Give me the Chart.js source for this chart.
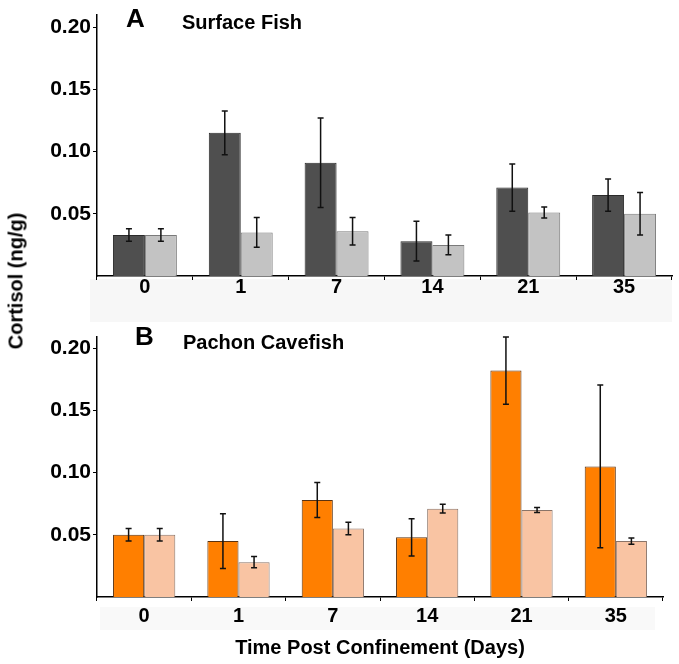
<!DOCTYPE html>
<html>
<head>
<meta charset="utf-8">
<script src="https://cdn.jsdelivr.net/npm/chart.js@4/dist/chart.umd.min.js"></script>
<style>
  body { margin: 0; background: #fff; }
  #wrap { position: relative; width: 679px; height: 664px; font-family: "Liberation Sans", Arial, sans-serif; font-weight: bold; color: #000; }
  canvas { position: absolute; left: 0; }
  .txt { position: absolute; white-space: nowrap; }
  .band { position: absolute; background: #f7f7f7; }
</style>
</head>
<body>
<div id="wrap">
  <div class="band" style="left:90px;top:279px;width:582px;height:43px"></div>
  <div class="band" style="left:100px;top:607px;width:555px;height:23px;background:#f9f9f9"></div>
  <canvas id="grafA" width="679" height="300" style="top:0"></canvas>
  <canvas id="grafB" width="679" height="364" style="top:300px"></canvas>
  <div class="txt" style="left:126px;top:3px;font-size:26px">A</div>
  <div class="txt" style="left:182px;top:11px;font-size:20px">Surface Fish</div>
  <div class="txt" style="left:135px;top:321px;font-size:26px">B</div>
  <div class="txt" style="left:183px;top:331px;font-size:20px">Pachon Cavefish</div>
  <div class="txt" style="left:16px;top:281px;font-size:20px;transform:translate(-50%,-50%) rotate(-90deg)">Cortisol (ng/g)</div>
</div>
<script>
// jours apres le confinement
const jours = ['0', '1', '7', '14', '21', '35']

// A - Surface fish (barre foncee / barre claire) + erreurs
const surfaceFonce = [0.033, 0.115, 0.091, 0.028, 0.071, 0.065]
const surfaceFonceErr = [0.005, 0.0175, 0.036, 0.016, 0.019, 0.013]
const surfaceClair = [0.033, 0.035, 0.036, 0.025, 0.051, 0.050]
const surfaceClairErr = [0.005, 0.012, 0.011, 0.008, 0.0045, 0.017]

// B - Pachon cavefish
const caveFonce = [0.050, 0.045, 0.078, 0.048, 0.182, 0.105]
const caveFonceErr = [0.005, 0.022, 0.014, 0.015, 0.027, 0.0655]
const caveClair = [0.050, 0.028, 0.055, 0.071, 0.070, 0.045]
const caveClairErr = [0.005, 0.0045, 0.005, 0.0035, 0.002, 0.0025]

const graduations = [0.05, 0.10, 0.15, 0.20]

// dessine les barres d'erreur au dessus des barres
const barresErreur = {
    id: 'barresErreur',
    afterDatasetsDraw(chart) {
        const ctx = chart.ctx
        const y = chart.scales.y
        chart.data.datasets.forEach((ds, i) => {
            const meta = chart.getDatasetMeta(i)
            meta.data.forEach((barre, j) => {
                const haut = y.getPixelForValue(ds.data[j] + ds.erreurs[j])
                const bas = y.getPixelForValue(ds.data[j] - ds.erreurs[j])
                ctx.save()
                ctx.strokeStyle = '#111'
                ctx.lineWidth = 1.5
                ctx.beginPath()
                ctx.moveTo(barre.x, haut); ctx.lineTo(barre.x, bas)
                ctx.moveTo(barre.x - 3, haut); ctx.lineTo(barre.x + 3, haut)
                ctx.moveTo(barre.x - 3, bas); ctx.lineTo(barre.x + 3, bas)
                ctx.stroke()
                ctx.restore()
            })
        })
    }
}

function creerGraphique(id, fonce, fonceErr, clair, clairErr, couleurs, reglages) {
    const police = { family: '"Liberation Sans", Arial, sans-serif', weight: 'bold', size: 20 }
    const policeY = { family: '"Liberation Sans", Arial, sans-serif', weight: 'bold', size: 21 }
    return new Chart(document.querySelector(id), {
        type: 'bar',
        data: {
            labels: jours,
            datasets: [{
                data: fonce, erreurs: fonceErr,
                backgroundColor: couleurs[0], borderColor: couleurs[1], borderWidth: 1,
                categoryPercentage: reglages.cat, barPercentage: 1
            }, {
                data: clair, erreurs: clairErr,
                backgroundColor: couleurs[2], borderColor: couleurs[3], borderWidth: 1,
                categoryPercentage: reglages.cat, barPercentage: 1
            }]
        },
        options: {
            responsive: false,
            animation: false,
            layout: { padding: { top: reglages.haut, right: reglages.droite, left: 0, bottom: 0 } },
            plugins: { legend: { display: false }, tooltip: { enabled: false } },
            scales: {
                x: {
                    grid: { drawOnChartArea: false, tickLength: 4, color: '#000' },
                    border: { color: '#000', width: 1.5 },
                    ticks: { color: '#000', font: police, padding: reglages.padX },
                    title: {
                        display: !!reglages.titreX, text: reglages.titreX || '',
                        color: '#000', font: police, padding: { top: 0, bottom: 4 }
                    },
                    afterFit: s => { s.height = reglages.hautX }
                },
                y: {
                    min: 0, max: reglages.max,
                    grid: { drawOnChartArea: false, tickLength: 4, color: '#000' },
                    border: { color: '#000', width: 1.5 },
                    ticks: { color: '#000', font: policeY, padding: 2, stepSize: 0.05, callback: v => v.toFixed(2) },
                    afterBuildTicks: s => {
                        s.ticks = graduations.map(v => ({ value: v }))
                    },
                    afterFit: s => { s.width = 97 }
                }
            }
        },
        plugins: [barresErreur]
    })
}

creerGraphique('#grafA', surfaceFonce, surfaceFonceErr, surfaceClair, surfaceClairErr,
    ['#4f4f4f', '#2a2a2a', '#c3c3c3', '#7a7a7a'],
    { cat: 0.667, haut: 12, droite: 7, max: 0.21, hautX: 24, padX: -5 })

creerGraphique('#grafB', caveFonce, caveFonceErr, caveClair, caveClairErr,
    ['#ff7f00', '#5a3210', '#f9c4a3', '#8a7468'],
    { cat: 0.66, haut: 37, droite: 16, max: 0.209, hautX: 67, padX: 3, titreX: 'Time Post Confinement (Days)' })
</script>
</body>
</html>
